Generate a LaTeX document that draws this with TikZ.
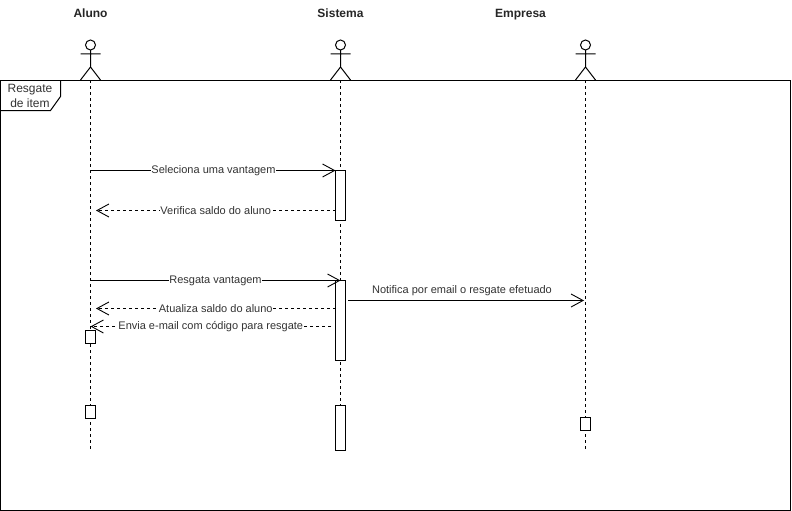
\documentclass[tikz,border=0pt]{standalone}
\usepackage{fontspec}
\setmainfont{Liberation Sans}
\usetikzlibrary{arrows.meta}
\tikzset{
  ln/.style={line width=1pt,black},
  life/.style={ln,line width=0.9pt,dash pattern=on 3pt off 3pt},
  actbox/.style={draw,ln,fill=white,minimum width=10pt,inner sep=0pt,outer sep=0pt,anchor=north},
  actorname/.style={font=\fontsize{12}{14}\selectfont\bfseries,text=black!85,inner sep=0pt,anchor=base},
  lab/.style={font=\fontsize{11}{13}\selectfont,text=black!80,fill=white,inner sep=0.5pt},
  msg/.style={ln,-{Straight Barb[length=12pt,width=13pt,line width=0.9pt]}},
  ret/.style={msg,dash pattern=on 3pt off 3pt},
}
\newcommand{\stick}[1]{%
  \draw[ln] (#1,45) circle (5);
  \draw[ln] (#1,50) -- (#1,67) (#1-10,54) -- (#1+10,54) (#1-10,80) -- (#1,67) -- (#1+10,80);
}
\begin{document}
\begin{tikzpicture}[x=1pt,y=-1pt]
\useasboundingbox (0,0) rectangle (792,511);
\fill[white] (0,0) rectangle (792,511);
% frame
\draw[ln] (0.5,80.5) rectangle (790.5,510.5);
\draw[ln] (0.5,110.5) -- (50.5,110.5) -- (60.5,96.5) -- (60.5,80.5);
\node[font=\fontsize{12}{15}\selectfont,text=black!80,align=center,inner sep=0pt] (frametitle) at (30,95.5) {Resgate\\de item};
% actors
\node[actorname] (aluno) at (90.5,18) {Aluno};
\node[actorname] (sistema) at (340.5,18) {Sistema};
\node[actorname] (empresa) at (520.5,18) {Empresa};
\stick{90.5}
\stick{340.5}
\stick{585.5}
% lifelines
\coordinate (a0) at (90.5,80); \coordinate (a1) at (90.5,450);
\coordinate (s0) at (340.5,80); \coordinate (s1) at (340.5,450);
\coordinate (e0) at (585.5,80); \coordinate (e1) at (585.5,450);
\draw[life] (a0) -- (a1);
\draw[life] (s0) -- (s1);
\draw[life] (e0) -- (e1);
% activations
\node[actbox,minimum height=50pt] (b1) at (340.5,170.5) {};
\node[actbox,minimum height=80pt] (b2) at (340.5,280.5) {};
\node[actbox,minimum height=45pt] (b3) at (340.5,405.5) {};
\node[actbox,minimum height=13pt] (b4) at (90.5,330.5) {};
\node[actbox,minimum height=13pt] (b5) at (90.5,405.5) {};
\node[actbox,minimum height=13pt] (b6) at (585.5,417.5) {};
% message ends
\coordinate (m1a) at (90.5,170.5); \coordinate (m1b) at (335.5,170.5);
\coordinate (m2a) at (335.5,210.5); \coordinate (m2b) at (96,210.5);
\coordinate (m3a) at (90.5,280.5); \coordinate (m3b) at (340.5,280.5);
\coordinate (m4a) at (335.5,308.5); \coordinate (m4b) at (96,308.5);
\coordinate (m5a) at (331,326.5); \coordinate (m5b) at (90.5,326.5);
\coordinate (m6a) at (348,300.5); \coordinate (m6b) at (584,300.5);
\draw[msg] (m1a) -- node[lab,pos=0.502] {Seleciona uma vantagem} (m1b);
\draw[ret] (m2a) -- node[lab,pos=0.5] {Verifica saldo do aluno} (m2b);
\draw[msg] (m3a) -- node[lab,pos=0.5] {Resgata vantagem} (m3b);
\draw[ret] (m4a) -- node[lab,pos=0.5] {Atualiza saldo do aluno} (m4b);
\draw[ret] (m5a) -- node[lab,pos=0.5] {Envia e-mail com código para resgate} (m5b);
\draw[msg] (m6a) -- (m6b);
\node[lab,fill=none] (notif) at (462,291) {Notifica por email o resgate efetuado};
\end{tikzpicture}
\end{document}
